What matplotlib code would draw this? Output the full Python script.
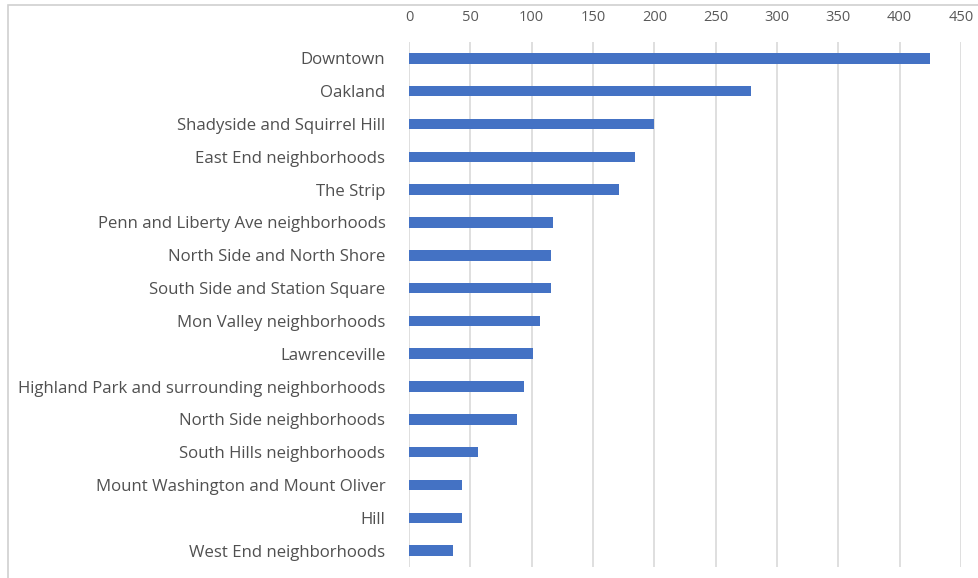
import matplotlib.pyplot as plt
from matplotlib.patches import Rectangle

neighborhoods = [
    'Downtown', 'Oakland', 'Shadyside and Squirrel Hill', 'East End neighborhoods',
    'The Strip', 'Penn and Liberty Ave neighborhoods', 'North Side and North Shore',
    'South Side and Station Square', 'Mon Valley neighborhoods', 'Lawrenceville',
    'Highland Park and surrounding neighborhoods', 'North Side neighborhoods',
    'South Hills neighborhoods', 'Mount Washington and Mount Oliver', 'Hill',
    'West End neighborhoods',
]
counts = [425, 279, 200, 184, 171, 117, 116, 116, 107, 101, 94, 88, 56, 43, 43, 36]
xticks = [0, 50, 100, 150, 200, 250, 300, 350, 400, 450]

plt.rcParams['font.family'] = ['Open Sans', 'DejaVu Sans']

fig = plt.figure(figsize=(9.79, 5.78), dpi=100)
ax = fig.add_axes([0.4178, 0.019, 0.5638, 0.9083])

ax.barh(range(len(neighborhoods)), counts, height=0.32, color='#4472C4', zorder=3)
ax.set_ylim(len(neighborhoods) - 0.5, -0.5)
ax.set_xlim(0, 450)
ax.set_xticks(xticks)
ax.set_yticks(range(len(neighborhoods)))
ax.set_yticklabels(neighborhoods)

ax.xaxis.tick_top()
ax.tick_params(axis='x', length=0, pad=12, labelsize=10.5, labelcolor='#595959')
ax.tick_params(axis='y', length=0, pad=17, labelsize=12.1, labelcolor='#505050')
ax.grid(True, axis='x', color='#D9D9D9', linewidth=1.2, zorder=0)
for s in ax.spines.values():
    s.set_visible(False)

# light border round the chart area
fig.patches.append(Rectangle((0.0082, -0.05), 1.1, 1.041, transform=fig.transFigure,
                             fill=False, edgecolor='#D0D0D0', linewidth=1.2))

fig.savefig('out.png', dpi=100)
